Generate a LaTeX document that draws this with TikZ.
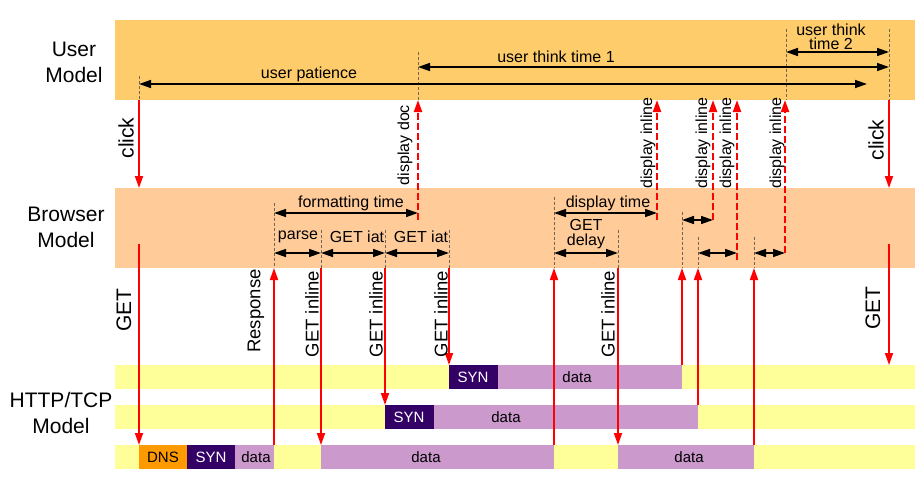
\documentclass[tikz,border=0pt]{standalone}
\usepackage{fontspec}
\setmainfont{Liberation Sans}
\usepackage{tikz}
\usetikzlibrary{arrows.meta}
\definecolor{userband}{HTML}{FECC6A}
\definecolor{browserband}{HTML}{FFCC99}
\definecolor{tcprow}{HTML}{FFFF99}
\definecolor{synfill}{HTML}{330066}
\definecolor{datafill}{HTML}{CC99CC}
\definecolor{dnsfill}{HTML}{FF9900}
\definecolor{reqred}{HTML}{FF0000}
\definecolor{guidegrey}{HTML}{6E6458}

\begin{document}
\begin{tikzpicture}[x=1pt, y=-1pt,
  big/.style={font=\fontsize{21}{26}\selectfont, align=center, inner sep=0pt},
  lbl/.style={font=\fontsize{16}{14.5}\selectfont, align=center, inner sep=0pt},
  vlbl/.style={lbl, rotate=90},
  reqlbl/.style={font=\fontsize{18.5}{18.5}\selectfont, inner sep=0pt, rotate=90},
  boxtxt/.style={font=\fontsize{15}{15}\selectfont, inner sep=0pt},
  req/.style={draw=reqred, line width=1.7pt, -{Triangle[length=12pt,width=8pt]}},
  disp/.style={req, line width=2pt, dash pattern=on 7pt off 3pt},
  dimarr/.style={draw=black, line width=1.5pt, {Triangle[length=12pt,width=8pt]}-{Triangle[length=12pt,width=8pt]}},
  guide/.style={draw=guidegrey, line width=1pt, dash pattern=on 3pt off 2pt}
]
\useasboundingbox (0,0) rectangle (918,482);
% levels
\coordinate (uBot) at (0,100);
\coordinate (bTop) at (0,188);
\coordinate (bBot) at (0,268);
\coordinate (rowA) at (0,365);
\coordinate (rowB) at (0,405);
\coordinate (rowC) at (0,445);
% events
\coordinate (tClick) at (139,0);
\coordinate (tResp) at (274,0);
\coordinate (tParse) at (321,0);
\coordinate (tIatA) at (385,0);
\coordinate (tDoc) at (418,0);
\coordinate (tIatB) at (449,0);
\coordinate (tDone) at (554,0);
\coordinate (tGetD) at (618,0);
\coordinate (tDispA) at (657,0);
\coordinate (tEndA) at (682,0);
\coordinate (tEndB) at (698,0);
\coordinate (tDispB) at (713,0);
\coordinate (tDispC) at (737,0);
\coordinate (tEndC) at (754,0);
\coordinate (tDispD) at (785,0);
\coordinate (tPat) at (867,0);
\coordinate (tNext) at (889,0);

% bands
\fill[userband] (115,20) rectangle (915,100);
\fill[browserband] (115,188) rectangle (915,268);
\node[big] (usermodel) at (74,62) {User\\Model};
\node[big] (browsermodel) at (66,227) {Browser\\Model};
\node[big] (tcpmodel) at (61,413) {HTTP/TCP\\Model};

% HTTP/TCP rows
\fill[tcprow] (115,365) rectangle (915,389);
\fill[tcprow] (115,405) rectangle (915,429);
\fill[tcprow] (115,445) rectangle (915,469);
\fill[synfill] (449,365) rectangle (498,389);
\fill[datafill] (498,365) rectangle (682,389);
\fill[synfill] (385,405) rectangle (434,429);
\fill[datafill] (434,405) rectangle (698,429);
\fill[dnsfill] (139,445) rectangle (187,469);
\fill[synfill] (187,445) rectangle (235,469);
\fill[datafill] (235,445) rectangle (274,469);
\fill[datafill] (321,445) rectangle (554,469);
\fill[datafill] (618,445) rectangle (754,469);
\node[boxtxt, text=white] (synA) at (473,377) {SYN};
\node[boxtxt] (dataA) at (577,377) {data};
\node[boxtxt, text=white] (synB) at (409,417) {SYN};
\node[boxtxt] (dataB) at (506,417) {data};
\node[boxtxt] (dns) at (163,457) {DNS};
\node[boxtxt, text=white] (synC) at (211,457) {SYN};
\node[boxtxt] (dataC) at (256,457) {data};
\node[boxtxt] (dataD) at (426,457) {data};
\node[boxtxt] (dataE) at (689,457) {data};

% user model marks
\draw[guide] (139,76) -- (139,100);
\draw[guide] (418,52) -- (418,100);
\draw[guide] (786,29) -- (786,100);
\draw[guide] (889,29) -- (889,100);
\draw[dimarr] (tClick |- 0,84) -- (tPat |- 0,84);
\draw[dimarr] (tDoc |- 0,67) -- (tNext |- 0,67);
\draw[dimarr] (786,52) -- (tNext |- 0,52);
\node[lbl] (patience) at (309,74) {user patience};
\node[lbl] (thinkA) at (556,57) {user think time 1};
\node[lbl] (thinkB) at (831,37) {user think\\time 2};

% browser model marks
\draw[guide] (274,203) -- (274,268);
\draw[guide] (321,230) -- (321,268);
\draw[guide] (385,230) -- (385,268);
\draw[guide] (449,230) -- (449,268);
\draw[guide] (554,197) -- (554,268);
\draw[guide] (618,230) -- (618,268);
\draw[guide] (682,212) -- (682,268);
\draw[guide] (698,237) -- (698,268);
\draw[guide] (754,237) -- (754,268);
\draw[dimarr] (tResp |- 0,213) -- (tDoc |- 0,213);
\draw[dimarr] (tResp |- 0,253) -- (tParse |- 0,253);
\draw[dimarr] (tParse |- 0,253) -- (tIatA |- 0,253);
\draw[dimarr] (tIatA |- 0,253) -- (tIatB |- 0,253);
\draw[dimarr] (tDone |- 0,213) -- (tDispA |- 0,213);
\draw[dimarr] (tDone |- 0,253) -- (tGetD |- 0,253);
\draw[dimarr] (tEndA |- 0,220) -- (tDispB |- 0,220);
\draw[dimarr] (tEndB |- 0,253) -- (tDispC |- 0,253);
\draw[dimarr] (tEndC |- 0,253) -- (tDispD |- 0,253);
\node[lbl] (fmt) at (351,203) {formatting time};
\node[lbl] (parse) at (298,237) {parse};
\node[lbl] (iatA) at (357,237) {GET iat};
\node[lbl] (iatB) at (421,237) {GET iat};
\node[lbl] (disptime) at (608,203) {display time};
\node[lbl] (getdelay) at (586,234) {GET\\delay};

% user <-> browser
\draw[req] (tClick |- uBot) -- (tClick |- bTop);
\draw[req] (tNext |- uBot) -- (tNext |- bTop);
\draw[disp] (tDoc |- 0,220) -- (tDoc |- uBot);
\draw[disp] (tDispA |- 0,220) -- (tDispA |- uBot);
\draw[disp] (tDispB |- 0,220) -- (tDispB |- uBot);
\draw[disp] (tDispC |- 0,260) -- (tDispC |- uBot);
\draw[disp] (tDispD |- 0,253) -- (tDispD |- uBot);
\node[big, rotate=90] (clickA) at (126,138) {click};
\node[big, rotate=90] (clickB) at (876,140) {click};
\node[vlbl] (doc) at (405,145) {display doc};
\node[vlbl] (inlA) at (648,143) {display inline};
\node[vlbl] (inlB) at (703,143) {display inline};
\node[vlbl] (inlC) at (727,143) {display inline};
\node[vlbl] (inlD) at (777,143) {display inline};

% browser <-> HTTP/TCP
\draw[req] (tClick |- 0,244) -- (tClick |- rowC);
\draw[req] (tNext |- 0,244) -- (tNext |- rowA);
\draw[req] (tResp |- rowC) -- (tResp |- bBot);
\draw[req] (tParse |- bBot) -- (tParse |- rowC);
\draw[req] (tIatA |- bBot) -- (tIatA |- rowB);
\draw[req] (tIatB |- bBot) -- (tIatB |- rowA);
\draw[req] (tDone |- rowC) -- (tDone |- bBot);
\draw[req] (tGetD |- bBot) -- (tGetD |- rowC);
\draw[req] (tEndA |- rowA) -- (tEndA |- bBot);
\draw[req] (tEndB |- rowB) -- (tEndB |- bBot);
\draw[req] (tEndC |- rowC) -- (tEndC |- bBot);
\node[big, rotate=90] (getA) at (124,310) {GET};
\node[big, rotate=90] (getB) at (873,308) {GET};
\node[reqlbl] (response) at (256,311) {Response};
\node[reqlbl] (getinA) at (312,314) {GET inline};
\node[reqlbl] (getinB) at (376,314) {GET inline};
\node[reqlbl] (getinC) at (441,314) {GET inline};
\node[reqlbl] (getinD) at (608,314) {GET inline};
\end{tikzpicture}
\end{document}
